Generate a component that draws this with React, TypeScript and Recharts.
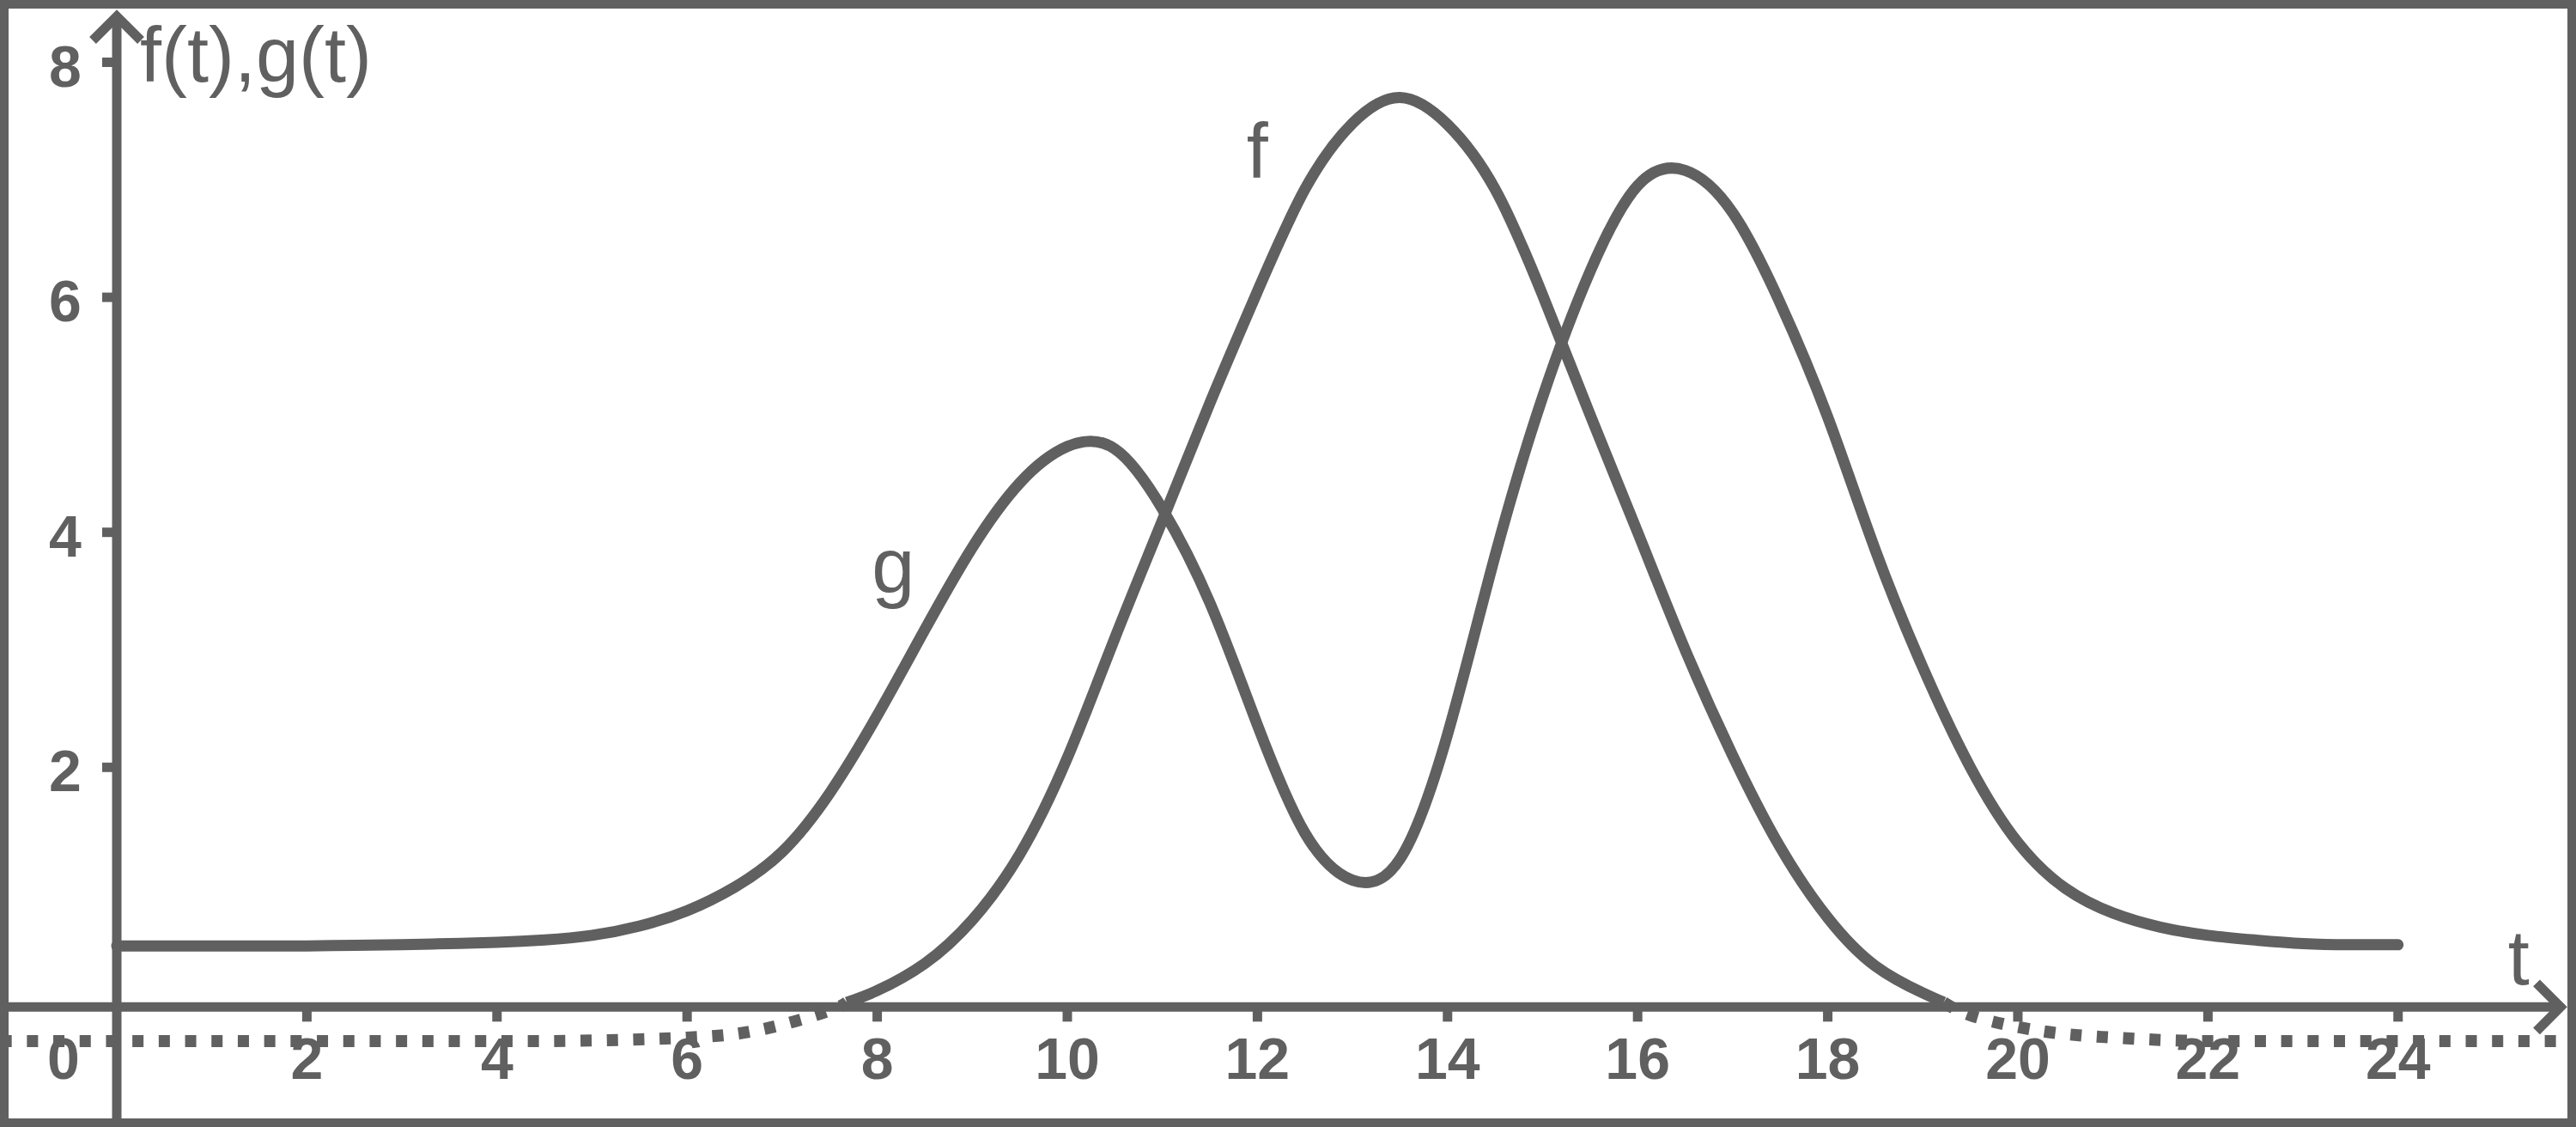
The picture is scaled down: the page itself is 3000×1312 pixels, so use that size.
import { LineChart, Line, XAxis, YAxis, ReferenceLine, ReferenceDot } from "recharts";

const INK = "#606060";
const FONT = '"Liberation Sans", Arial, Helvetica, sans-serif';
const W = 3000;
const H = 1312;

// visible window of the plot, in data units
const XMIN = -1.2285;
const XMAX = 25.872;
const YMIN = -1.061;
const YMAX = 8.53;
// the drawn t axis sits a hair below y = 0 in the picture
const T_AXIS_Y = -0.04;

// f(t) on a half-step grid plus its two zero crossings;
// the part below zero is drawn dotted
const F_T = [
  -1.5, -1, -0.5, 0, 0.5, 1, 1.5, 2, 2.5, 3, 3.5, 4, 4.5, 5, 5.5, 6, 6.5, 7, 7.5, 7.68,
  8, 8.5, 9, 9.5, 10, 10.5, 11, 11.5, 12, 12.5, 13, 13.5, 14, 14.5, 15, 15.5, 16, 16.5,
  17, 17.5, 18, 18.5, 19, 19.22, 19.5, 20, 20.5, 21, 21.5, 22, 22.5, 23, 23.5, 24,
  24.5, 25, 25.5, 26,
];
const F_V = [
  -0.33, -0.33, -0.33, -0.33, -0.33, -0.33, -0.33, -0.33, -0.33, -0.33, -0.33, -0.33,
  -0.33, -0.325, -0.315, -0.3, -0.27, -0.19, -0.07, 0,
  0.1, 0.33, 0.7, 1.26, 2.08, 3.1, 4.1, 5.1, 6.05, 6.92, 7.48, 7.7, 7.47, 6.92, 6.02,
  5.0, 4.0, 3.0, 2.1, 1.32, 0.72, 0.31, 0.08, 0,
  -0.11, -0.21, -0.27, -0.3, -0.32, -0.33, -0.33, -0.33, -0.33, -0.33, -0.33, -0.33,
  -0.33, -0.33,
];

// g(t) on a half-step grid
const G_T = [
  0, 0.5, 1, 1.5, 2, 2.5, 3, 3.5, 4, 4.5, 5, 5.5, 6, 6.5, 7, 7.5, 8, 8.5, 9, 9.5, 10,
  10.5, 11, 11.5, 12, 12.5, 13, 13.5, 14, 14.5, 15, 15.5, 16, 16.5, 17, 17.5, 18, 18.5,
  19, 19.5, 20, 20.5, 21, 21.5, 22, 22.5, 23, 23.5, 24,
];
const G_V = [
  0.48, 0.48, 0.48, 0.48, 0.48, 0.485, 0.49, 0.5, 0.51, 0.53, 0.57, 0.65, 0.78, 0.98,
  1.28, 1.78, 2.44, 3.17, 3.87, 4.42, 4.73, 4.71, 4.2, 3.4, 2.36, 1.44, 1.04, 1.22,
  2.28, 3.8, 5.15, 6.22, 6.95, 7.08, 6.72, 5.95, 4.98, 3.85, 2.85, 2.0, 1.36, 0.97,
  0.76, 0.64, 0.57, 0.53, 0.5, 0.49, 0.49,
];

const X_TICKS = [0, 2, 4, 6, 8, 10, 12, 14, 16, 18, 20, 22, 24];
const Y_TICKS = [2, 4, 6, 8];

const NOTE_TEXT = ["f(t),g(t)", "f", "g", "t"];
const NOTE_T = [0.244, 12.0, 8.17, 25.27];
const NOTE_V = [7.836, 7.017, 3.486, 0.153];
const NOTE_ANCHOR = ["start", "middle", "middle", "middle"];

const fSolid = F_T.map((t, i) => ({ t, v: F_V[i] >= 0 ? F_V[i] : null }));
const fDotted = F_T.map((t, i) => ({ t, v: F_V[i] <= 0 ? F_V[i] : null }));
const gData = G_T.map((t, i) => ({ t, v: G_V[i] }));

const lineProps = {
  type: "natural" as const,
  dataKey: "v",
  stroke: INK,
  dot: false,
  activeDot: false,
  isAnimationActive: false,
  connectNulls: false,
};

function HorizontalAxis(p: any) {
  const y = p.y1;
  const start = Math.min(p.x1, p.x2);
  const tip = Math.max(p.x1, p.x2) - 18;
  return (
    <g>
      <line x1={start} y1={y} x2={tip} y2={y} stroke={INK} strokeWidth={11} />
      <polyline
        points={`${tip - 28},${y - 28} ${tip},${y} ${tip - 28},${y + 28}`}
        fill="none"
        stroke={INK}
        strokeWidth={11}
      />
    </g>
  );
}

function VerticalAxis(p: any) {
  const x = p.x1;
  const tip = Math.min(p.y1, p.y2) + 19;
  const end = Math.max(p.y1, p.y2);
  return (
    <g>
      <line x1={x} y1={tip} x2={x} y2={end} stroke={INK} strokeWidth={11} />
      <polyline
        points={`${x - 28},${tip + 28} ${x},${tip} ${x + 28},${tip + 28}`}
        fill="none"
        stroke={INK}
        strokeWidth={11}
      />
    </g>
  );
}

function XTick({ cx, cy, value }: { cx: number; cy: number; value: number }) {
  const isOrigin = value === 0;
  return (
    <g>
      {isOrigin ? null : (
        <line x1={cx} y1={cy} x2={cx} y2={cy + 17} stroke={INK} strokeWidth={11} />
      )}
      <text
        x={isOrigin ? cx - 62 : cx}
        y={cy + 84}
        textAnchor="middle"
        fill={INK}
        fontFamily={FONT}
        fontWeight={700}
        fontSize={68}
      >
        {value}
      </text>
    </g>
  );
}

function YTick({ cx, cy, value }: { cx: number; cy: number; value: number }) {
  return (
    <g>
      <line x1={cx - 17} y1={cy} x2={cx} y2={cy} stroke={INK} strokeWidth={11} />
      <text
        x={cx - 60}
        y={cy + 28}
        textAnchor="middle"
        fill={INK}
        fontFamily={FONT}
        fontWeight={700}
        fontSize={68}
      >
        {value}
      </text>
    </g>
  );
}

export default function App() {
  return (
    <div style={{ position: "absolute", left: 0, top: 0, width: W, height: H, background: "#fff" }}>
      <LineChart width={W} height={H} margin={{ top: 0, right: 0, bottom: 0, left: 0 }}>
        <XAxis type="number" dataKey="t" domain={[XMIN, XMAX]} allowDataOverflow hide />
        <YAxis type="number" domain={[YMIN, YMAX]} allowDataOverflow hide />

        <ReferenceLine y={T_AXIS_Y} shape={HorizontalAxis} />
        <ReferenceLine x={0} shape={VerticalAxis} />

        {X_TICKS.map((t) => (
          <ReferenceDot
            key={`x${t}`}
            x={t}
            y={T_AXIS_Y}
            shape={(p: any) => <XTick cx={p.cx} cy={p.cy} value={t} />}
          />
        ))}
        {Y_TICKS.map((v) => (
          <ReferenceDot
            key={`y${v}`}
            x={0}
            y={v}
            shape={(p: any) => <YTick cx={p.cx} cy={p.cy} value={v} />}
          />
        ))}

        <Line {...lineProps} data={fDotted} strokeWidth={14} strokeDasharray="13 17.7" />
        <Line {...lineProps} data={fSolid} strokeWidth={13} strokeLinejoin="round" />
        <Line
          {...lineProps}
          data={gData}
          strokeWidth={13}
          strokeLinecap="round"
          strokeLinejoin="round"
        />

        {NOTE_TEXT.map((txt, i) => (
          <ReferenceDot
            key={`n${i}`}
            x={NOTE_T[i]}
            y={NOTE_V[i]}
            shape={(p: any) => (
              <text
                x={p.cx}
                y={p.cy}
                textAnchor={NOTE_ANCHOR[i] as any}
                fill={INK}
                fontFamily={FONT}
                fontSize={90}
              >
                {txt}
              </text>
            )}
          />
        ))}
      </LineChart>
      <div
        style={{
          position: "absolute",
          inset: 0,
          border: `10px solid ${INK}`,
          boxSizing: "border-box",
          pointerEvents: "none",
        }}
      />
    </div>
  );
}
